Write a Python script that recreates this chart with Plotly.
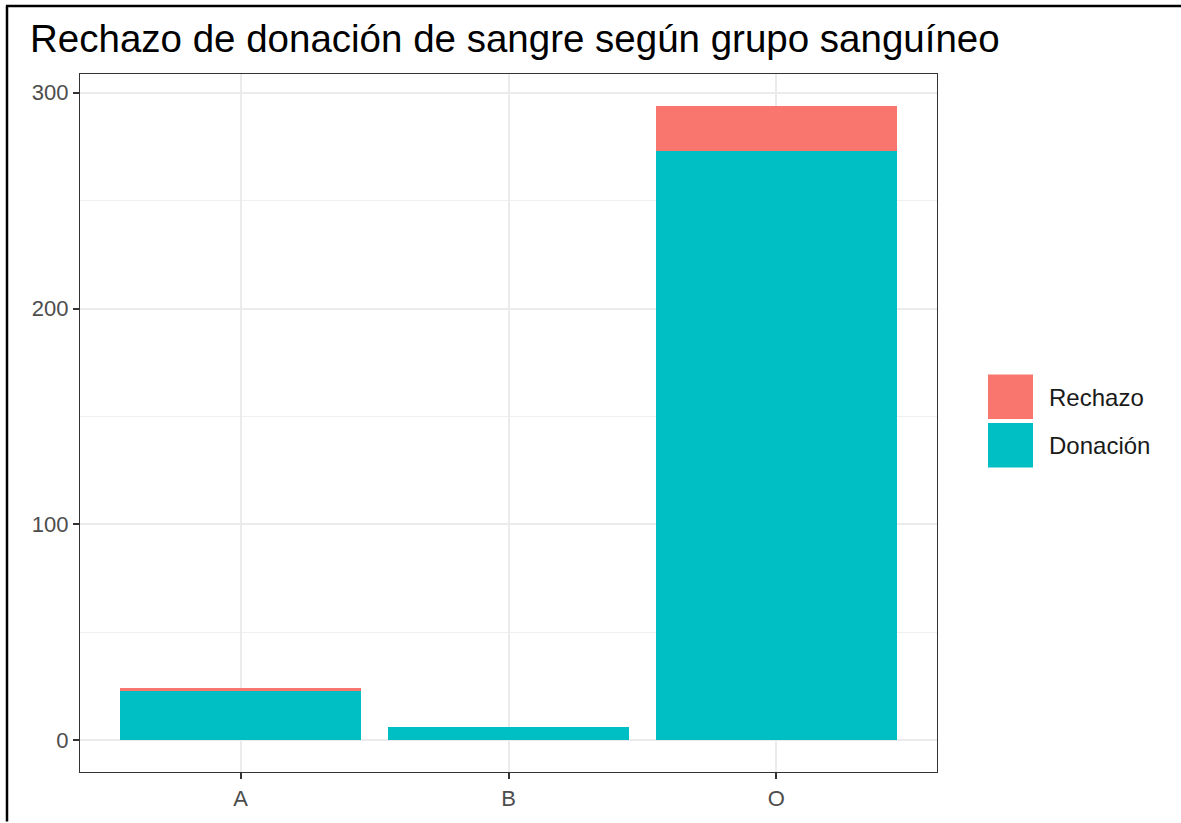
import plotly.graph_objects as go

grupos = ["A", "B", "O"]
donacion = [23, 6, 273]
rechazo = [1, 0, 21]
series_names = ["Rechazo", "Donación"]
colors = {"Rechazo": "#F8766D", "Donación": "#00BFC4"}
title_text = "Rechazo de donación de sangre según grupo sanguíneo"

W, H = 1181, 823
L, R, T, B = 80, 244, 74, 45
pw, ph = W - L - R, H - T - B

fig = go.Figure()
fig.add_trace(go.Bar(x=grupos, y=donacion, name="Donación", marker_color=colors["Donación"],
                     marker_line_width=0, width=0.9, showlegend=False))
fig.add_trace(go.Bar(x=grupos, y=rechazo, name="Rechazo", marker_color=colors["Rechazo"],
                     marker_line_width=0, width=0.9, showlegend=False))

total_max = max(d + r for d, r in zip(donacion, rechazo))
pad = 0.05 * total_max

def px2x(px):
    return (px - L) / pw

def px2y(py):
    return 1 - (py - T) / ph

shapes = []
# outer frame lines (left and top)
shapes.append(dict(type="line", xref="paper", yref="paper", x0=px2x(7), x1=px2x(7),
                   y0=px2y(H + 5), y1=px2y(5), line=dict(color="black", width=2.5)))
shapes.append(dict(type="line", xref="paper", yref="paper", x0=px2x(6), x1=px2x(W),
                   y0=px2y(5.5), y1=px2y(5.5), line=dict(color="black", width=2.5)))

annotations = []
key_x0, key_x1 = 988, 1033
for i, name in enumerate(series_names):
    y0 = 377 + i * 49
    shapes.append(dict(type="rect", xref="paper", yref="paper",
                       x0=px2x(key_x0), x1=px2x(key_x1), y0=px2y(y0 + 45), y1=px2y(y0),
                       fillcolor=colors[name], line_width=0))
    annotations.append(dict(xref="paper", yref="paper", x=px2x(1047), y=px2y(y0 + 23),
                            text=name, showarrow=False, xanchor="left", yanchor="middle",
                            font=dict(size=24, color="#1a1a1a", family="Liberation Sans, Arial")))

fig.update_layout(
    barmode="stack",
    width=W, height=H,
    margin=dict(l=L, r=R, t=T, b=B, pad=0),
    paper_bgcolor="white", plot_bgcolor="white",
    title=dict(text=title_text, x=30 / W, xanchor="left",
               y=1 - 39 / H, yanchor="middle",
               font=dict(size=38.5, color="black", family="Liberation Sans, Arial")),
    font=dict(family="Liberation Sans, Arial"),
    shapes=shapes, annotations=annotations,
    bargap=0.1,
)

fig.update_xaxes(type="category", range=[-0.6, 2.6], showgrid=True, gridcolor="#ebebeb", gridwidth=1.5,
                 showline=True, linecolor="#333333", linewidth=1.3, mirror=True,
                 ticks="outside", ticklen=6, tickcolor="#333333", tickwidth=1.5,
                 tickfont=dict(size=22, color="#4d4d4d"), zeroline=False)
fig.update_yaxes(range=[-pad, total_max + pad], tickvals=[0, 100, 200, 300],
                 showgrid=True, gridcolor="#ebebeb", gridwidth=1.5,
                 minor=dict(tickvals=[50, 150, 250], showgrid=True, gridcolor="#efefef", gridwidth=1),
                 showline=True, linecolor="#333333", linewidth=1.3, mirror=True,
                 ticks="outside", ticklen=6, tickcolor="#333333", tickwidth=1.5,
                 tickfont=dict(size=22, color="#4d4d4d"), zeroline=False)

fig.write_html("out.html", config={"displayModeBar": False},
               post_script="document.body.style.margin='0';document.body.style.overflow='hidden';")
